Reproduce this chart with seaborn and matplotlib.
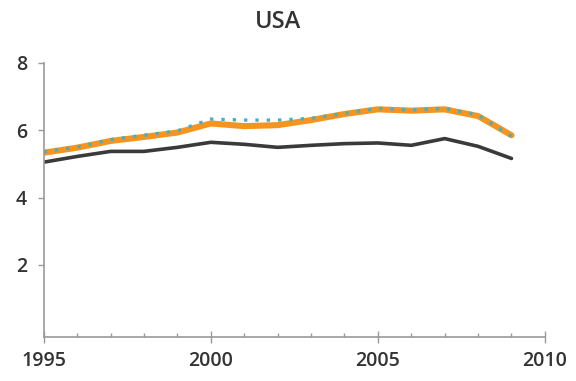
import pandas as pd
import numpy as np
import matplotlib.pyplot as plt
import seaborn as sns
from matplotlib.ticker import MultipleLocator

# --- data ---
years = list(range(1995, 2010))
black_vals = [5.05, 5.22, 5.37, 5.37, 5.49, 5.64, 5.58, 5.49, 5.55, 5.60, 5.62, 5.55, 5.75, 5.52, 5.16]
orange_vals = [5.33, 5.48, 5.68, 5.80, 5.93, 6.20, 6.12, 6.15, 6.30, 6.48, 6.62, 6.58, 6.62, 6.42, 5.85]
teal_vals = [5.36, 5.50, 5.72, 5.85, 5.98, 6.33, 6.30, 6.30, 6.35, 6.50, 6.65, 6.60, 6.65, 6.45, 5.82]
series_names = ["black", "orange", "teal"]
title = "USA"
y_ticks = [2, 4, 6, 8]
x_ticks = [1995, 2000, 2005, 2010]

df = pd.DataFrame({
    "year": years * 3,
    "value": black_vals + orange_vals + teal_vals,
    "series": [s for s in series_names for _ in years],
})

sns.set_style("white")
plt.rcParams["font.family"] = ["Open Sans", "DejaVu Sans"]

fig = plt.figure(figsize=(5.76, 3.81), dpi=100)
ax = fig.add_axes([0.076, 0.115, 0.870, 0.72])

palette = {"black": "#3a3a3a", "orange": "#f7941d", "teal": "#45b0c4"}
sns.lineplot(data=df[df.series == "black"], x="year", y="value", color=palette["black"],
             linewidth=2.6, ax=ax)
sns.lineplot(data=df[df.series == "orange"], x="year", y="value", color=palette["orange"],
             linewidth=4.4, ax=ax)
sns.lineplot(data=df[df.series == "teal"], x="year", y="value", color=palette["teal"],
             linewidth=2.4, linestyle=(0, (1, 2.4)), ax=ax)

ax.set_xlim(1995, 2010)
ax.set_ylim(-0.15, 8)
ax.set_xticks(x_ticks)
ax.xaxis.set_minor_locator(MultipleLocator(1))
ax.set_yticks(y_ticks)
ax.set_xlabel("")
ax.set_ylabel("")
fig.text(0.483, 0.942, title, fontsize=17, color="#333333", fontweight="semibold",
         ha="center", va="center")

for side in ["top", "right"]:
    ax.spines[side].set_visible(False)
for side in ["left", "bottom"]:
    ax.spines[side].set_color("#9a9a9a")
    ax.spines[side].set_linewidth(1.2)
ax.spines["left"].set_bounds(-0.15, 8)

ax.tick_params(axis="y", which="major", direction="out", length=4, width=1, color="#9a9a9a",
               labelsize=14, labelcolor="#333333", pad=8, left=True)
ax.tick_params(axis="x", which="major", direction="inout", length=8, width=1, color="#9a9a9a",
               labelsize=14, labelcolor="#333333", pad=6, bottom=True)
ax.tick_params(axis="x", which="minor", direction="in", length=3, width=1, color="#9a9a9a", bottom=True)
for lbl in ax.get_xticklabels() + ax.get_yticklabels():
    lbl.set_fontweight("semibold")

fig.savefig("out.png", dpi=100)
